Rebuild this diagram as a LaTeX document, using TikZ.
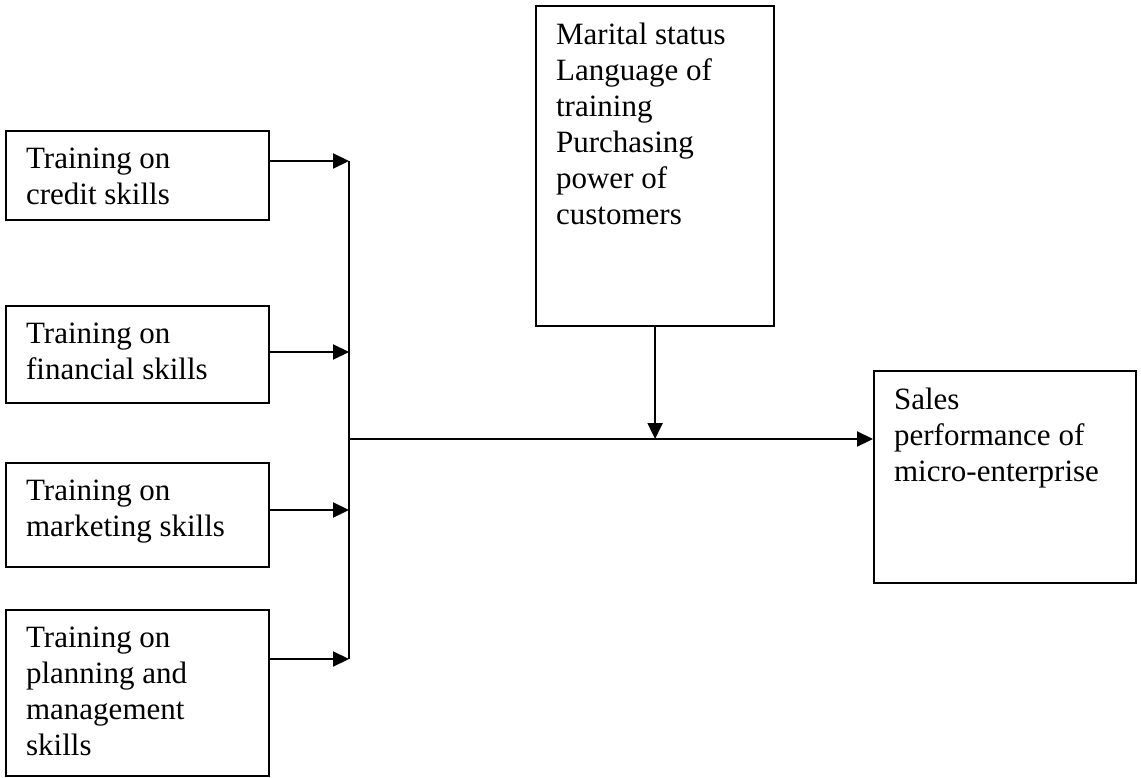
\documentclass[tikz,border=0pt]{standalone}
\usepackage{fontspec}
\setmainfont{Liberation Serif}
\usetikzlibrary{arrows.meta}

% box body: width, height, text (top left)
\newcommand{\boxbody}[3]{\parbox[c][#2][t]{#1}{\raggedright #3}}

\begin{document}
\begin{tikzpicture}[
  x=1pt, y=-1pt,
  factor/.style = {draw, line width=2.2pt, anchor=north west,
                   inner xsep=20pt, inner ysep=17pt,
                   font=\fontsize{31}{36}\selectfont},
  link/.style = {line width=2.2pt},
  flow/.style = {link, -{Triangle[length=16pt,width=15pt]}}
]
  \useasboundingbox (0,0) rectangle (1141,778);
  % independent variables
  \node[factor] (credit) at (5,130)
    {\boxbody{223pt}{55pt}{Training on\\credit skills}};
  \node[factor] (financial) at (5,305)
    {\boxbody{223pt}{63pt}{Training on\\financial skills}};
  \node[factor] (marketing) at (5,462)
    {\boxbody{223pt}{70pt}{Training on\\marketing skills}};
  \node[factor] (planning) at (5,609)
    {\boxbody{223pt}{132pt}{Training on\\planning and\\management\\skills}};
  % moderating variables
  \node[factor] (moderator) at (535,5)
    {\boxbody{198pt}{286pt}{Marital status\\Language of\\training\\Purchasing\\power of\\customers}};
  % dependent variable
  \node[factor] (sales) at (873,370)
    {\boxbody{222pt}{178pt}{Sales\\performance of\\micro-enterprise}};
  % joints on the collecting line
  \coordinate (j1) at (349,161);
  \coordinate (j2) at (349,352);
  \coordinate (j3) at (349,510);
  \coordinate (j4) at (349,659);
  \coordinate (hub) at (349,439);
  % connectors
  \draw[flow] (credit.east |- j1) -- (j1);
  \draw[flow] (financial.east |- j2) -- (j2);
  \draw[flow] (marketing.east |- j3) -- (j3);
  \draw[flow] (planning.east |- j4) -- (j4);
  \draw[link] (j1) -- (j4);
  \draw[flow] (hub) -- (sales.west |- hub);
  \draw[flow] (moderator.south) -- (moderator.south |- hub);
\end{tikzpicture}
\end{document}
